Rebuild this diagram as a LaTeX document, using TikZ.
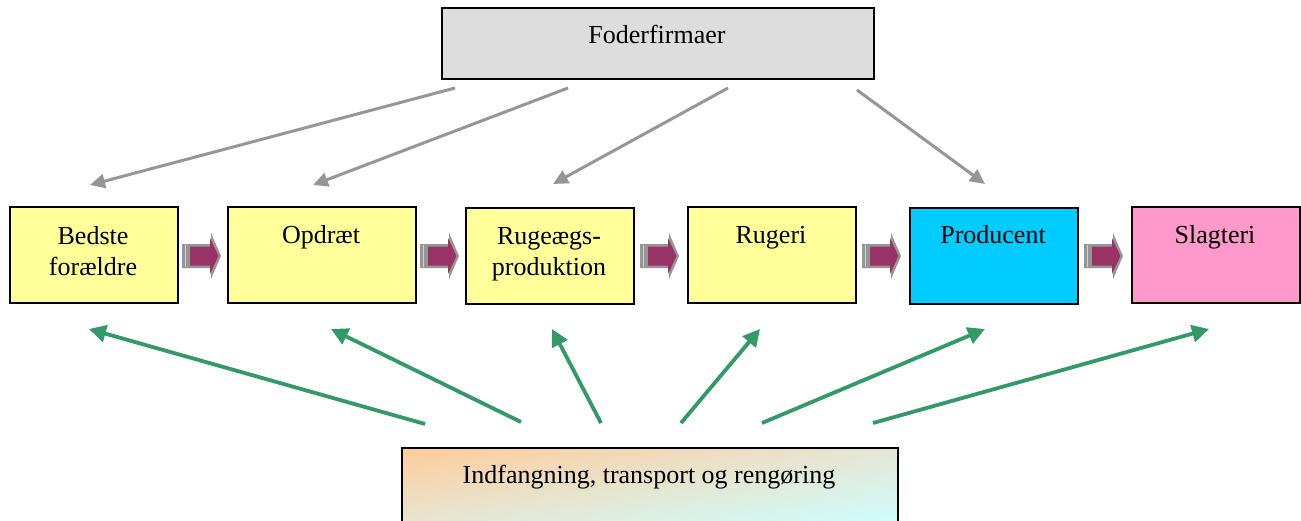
\documentclass[tikz,border=0pt]{standalone}
\usepackage{fontspec}
\setmainfont{Liberation Serif}
\usetikzlibrary{arrows.meta,calc,shadings}
\definecolor{boxyellow}{HTML}{FFFF99}
\definecolor{boxcyan}{HTML}{00CCFF}
\definecolor{boxpink}{HTML}{FF99CC}
\definecolor{boxgray}{HTML}{DDDDDD}
\definecolor{arrgray}{HTML}{969696}
\definecolor{arrgreen}{HTML}{339966}
\definecolor{plum}{HTML}{993366}
\definecolor{peach}{HTML}{FFCC99}
\definecolor{lightcyan}{HTML}{CCFFFF}
\definecolor{midmix}{HTML}{E6E6D6}
\begin{document}
\begin{tikzpicture}[x=1pt,y=-1pt,
  box/.style={draw=black, line width=2.3pt, inner sep=0pt, anchor=north west, minimum height=96pt},
  lbl/.style={font=\fontsize{26}{31}\selectfont, inner sep=0pt, text=black},
  grayarr/.style={draw=arrgray, line width=3pt, -{Triangle[length=15pt,width=14pt]}},
  greenarr/.style={draw=arrgreen, line width=3.8pt, -{Triangle[length=17pt,width=17pt]}},
  blockarrow/.pic={
    \fill[arrgray] (-20,-12) -- (9,-12) -- (9,-23) -- (19,0) -- (9,23) -- (9,12) -- (-20,12) -- cycle;
    \fill[plum] (-12,-9.5) -- (8,-9.5) -- (8,-18) -- (16.5,0) -- (8,18) -- (8,9.5) -- (-12,9.5) -- cycle;
    \draw[arrgray!45!white, line width=1pt] (-16.5,-11) -- (-16.5,11);
  }
]
\useasboundingbox[fill=white] (0,0) rectangle (1301,520);

% boxes
\node[box, fill=boxgray, minimum width=432pt, minimum height=71pt] (foder) at (441,7) {};
\node[box, fill=boxyellow, minimum width=168pt] (b1) at (9,206) {};
\node[box, fill=boxyellow, minimum width=188pt] (b2) at (227,206) {};
\node[box, fill=boxyellow, minimum width=168pt] (b3) at (465,207) {};
\node[box, fill=boxyellow, minimum width=168pt] (b4) at (687,206) {};
\node[box, fill=boxcyan, minimum width=168pt] (b5) at (909,207) {};
\node[box, fill=boxpink, minimum width=168pt] (b6) at (1131,206) {};
\node[box, draw=black, minimum width=496pt, minimum height=80pt,
      upper left=peach, lower right=lightcyan, upper right=midmix, lower left=midmix] (bund) at (401,447) {};

% texts
\node[lbl, anchor=base] (tfoder) at (657,43) {Foderfirmaer};
\node[lbl, anchor=north, align=center] (t1) at (93,226) {Bedste\\forældre};
\node[lbl, anchor=base] (t2) at (321,243) {Opdræt};
\node[lbl, anchor=north, align=center] (t3) at (549,227) {Rugeægs-\\produktion};
\node[lbl, anchor=base] (t4) at (771,243) {Rugeri};
\node[lbl, anchor=base] (t5) at (993,243) {Producent};
\node[lbl, anchor=base] (t6) at (1215,243) {Slagteri};
\node[lbl, anchor=base] (tbund) at (649,483) {Indfangning, transport og rengøring};

% block arrows between stages
\pic at (202,256) {blockarrow};
\pic at (440,256) {blockarrow};
\pic at (660,256) {blockarrow};
\pic at (882,256) {blockarrow};
\pic at (1104,256) {blockarrow};

% gray arrows from Foderfirmaer
\coordinate (g1s) at (455,88); \coordinate (g1e) at (90,185);
\coordinate (g2s) at (568,88); \coordinate (g2e) at (313,185);
\coordinate (g3s) at (728,88); \coordinate (g3e) at (553,184);
\coordinate (g4s) at (857,90); \coordinate (g4e) at (985,184);
\draw[grayarr] (g1s) -- (g1e);
\draw[grayarr] (g2s) -- (g2e);
\draw[grayarr] (g3s) -- (g3e);
\draw[grayarr] (g4s) -- (g4e);

% green arrows from bottom box
\coordinate (r1s) at (425,424); \coordinate (r1e) at (89,329);
\coordinate (r2s) at (521,422); \coordinate (r2e) at (331,329);
\coordinate (r3s) at (601,423); \coordinate (r3e) at (552,329);
\coordinate (r4s) at (681,423); \coordinate (r4e) at (760,329);
\coordinate (r5s) at (762,423); \coordinate (r5e) at (985,329);
\coordinate (r6s) at (873,423); \coordinate (r6e) at (1209,329);
\draw[greenarr] (r1s) -- (r1e);
\draw[greenarr] (r2s) -- (r2e);
\draw[greenarr] (r3s) -- (r3e);
\draw[greenarr] (r4s) -- (r4e);
\draw[greenarr] (r5s) -- (r5e);
\draw[greenarr] (r6s) -- (r6e);
\end{tikzpicture}
\end{document}
